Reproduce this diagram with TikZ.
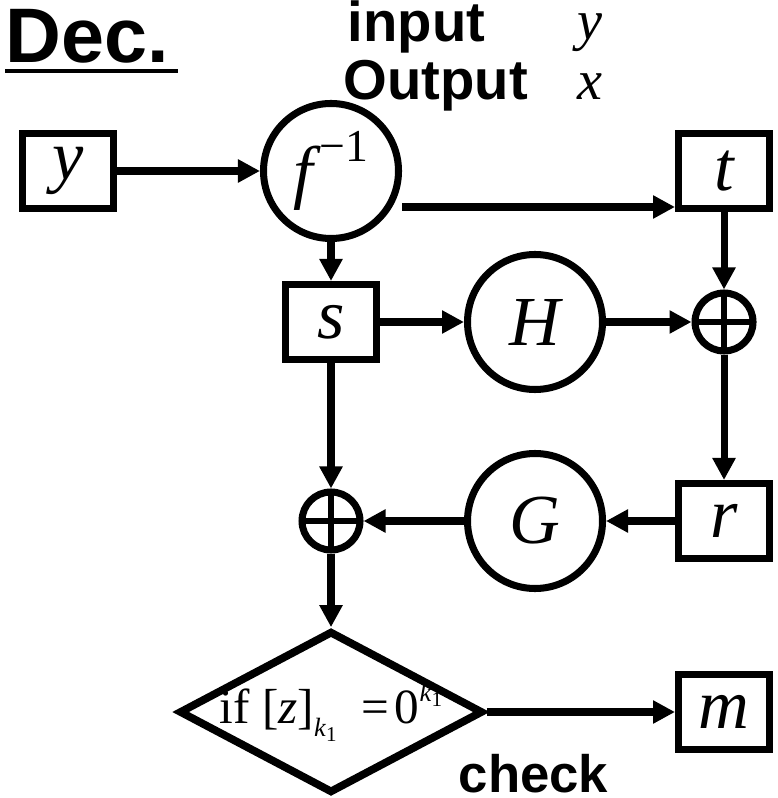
\documentclass[tikz,border=0pt]{standalone}
\usepackage{fontspec}
\setmainfont{Liberation Serif}
\setsansfont{Liberation Sans}
\usepackage{tikz}
\usetikzlibrary{shapes,arrows.meta,positioning,calc}

\begin{document}
\begin{tikzpicture}[
    varbox/.style={rectangle, draw=black, line width=2pt, fill=white, minimum width=0.91cm, minimum height=0.75cm, inner sep=0pt, font=\fontsize{20}{22}\selectfont\itshape},
    funcnode/.style={circle, draw=black, line width=2pt, fill=white, minimum size=1.35cm, inner sep=0pt, font=\fontsize{20}{22}\selectfont\itshape},
    xornode/.style={circle, draw=black, line width=2pt, minimum size=0.58cm, inner sep=0pt,
      path picture={\draw[line width=1.8pt] (path picture bounding box.north) -- (path picture bounding box.south)
        (path picture bounding box.west) -- (path picture bounding box.east);}},
    testnode/.style={diamond, draw=black, line width=2.2pt, minimum width=3.04cm, minimum height=1.62cm, inner sep=0pt, font=\fontsize{14}{16}\selectfont},
    headlbl/.style={anchor=base west, inner sep=0pt, font=\sffamily\bfseries\fontsize{16}{18}\selectfont},
    headval/.style={anchor=base west, inner sep=0pt, font=\fontsize{16}{18}\selectfont\itshape},
    darrow/.style={-{Triangle[length=2.2mm, width=2.2mm]}, line width=2pt, black}
  ]
    \useasboundingbox (0,0) rectangle (7.77,-7.98);

    % title and header
    \node[anchor=base west, inner sep=0pt, font=\sffamily\bfseries\fontsize{22}{24}\selectfont] (dec) at (0.05,-0.63) {Dec.};
    \draw[line width=1.2pt] ([yshift=-0.08cm]dec.base west) -- ([xshift=0.08cm,yshift=-0.08cm]dec.base east);
    \node[headlbl] (inlbl) at (3.47,-0.42) {input};
    \node[headlbl] (outlbl) at (3.43,-1.00) {Output};
    \node[headval] (inval) at (5.77,-0.40) {y};
    \node[headval] (outval) at (5.77,-1.00) {x};

    % row 1
    \node[varbox] (ybox) at (0.68,-1.71) {\raisebox{-0.04cm}{y}};
    \node[funcnode] (finv) at (3.31,-1.71) {\raisebox{-0.08cm}{f}\kern0.06cm\upshape\raisebox{0.26cm}{\fontsize{13}{14}\selectfont −1}};
    \node[varbox] (tbox) at (7.24,-1.71) {t};

    % row 2
    \node[varbox] (sbox) at (3.31,-3.22) {s};
    \node[funcnode] (hfun) at (5.35,-3.22) {H};
    \node[xornode] (xorr) at (7.24,-3.22) {};

    % row 3
    \node[xornode] (xorl) at (3.31,-5.21) {};
    \node[funcnode] (gfun) at (5.35,-5.21) {G};
    \node[varbox] (rbox) at (7.24,-5.21) {r};

    % check and output
    \node[testnode] (cond) at (3.31,-7.12) {\makebox[0pt]{\raisebox{-0.05cm}{if [\textit{z}]\raisebox{-0.13cm}{\fontsize{7.5}{8}\selectfont\textit{k}\raisebox{-0.05cm}{\fontsize{6}{6}\selectfont 1}}\ \ =\kern0.06cm 0\raisebox{0.22cm}{\fontsize{7.5}{8}\selectfont\textit{k}\raisebox{-0.05cm}{\fontsize{6}{6}\selectfont 1}}}}};
    \node[varbox] (mbox) at (7.24,-7.12) {m};
    \node[anchor=base west, inner sep=0pt, font=\sffamily\bfseries\fontsize{15}{17}\selectfont] (chk) at (4.58,-7.92) {check};

    \draw[darrow] (ybox.east) -- (finv.west);
    \draw[darrow] ([yshift=-0.36cm]finv.east) -- ([yshift=-0.36cm]finv.east -| tbox.west);
    \draw[darrow] (finv.south) -- (sbox.north);
    \draw[darrow] (sbox.east) -- (hfun.west);
    \draw[darrow] (hfun.east) -- (xorr.west);
    \draw[darrow] (tbox.south) -- (xorr.north);
    \draw[darrow] (xorr.south) -- (rbox.north);
    \draw[darrow] (rbox.west) -- (gfun.east);
    \draw[darrow] (gfun.west) -- (xorl.east);
    \draw[darrow] (sbox.south) -- (xorl.north);
    \draw[darrow] (xorl.south) -- (cond.north);
    \draw[darrow] (cond.east) -- (mbox.west);
  \end{tikzpicture}
\end{document}
